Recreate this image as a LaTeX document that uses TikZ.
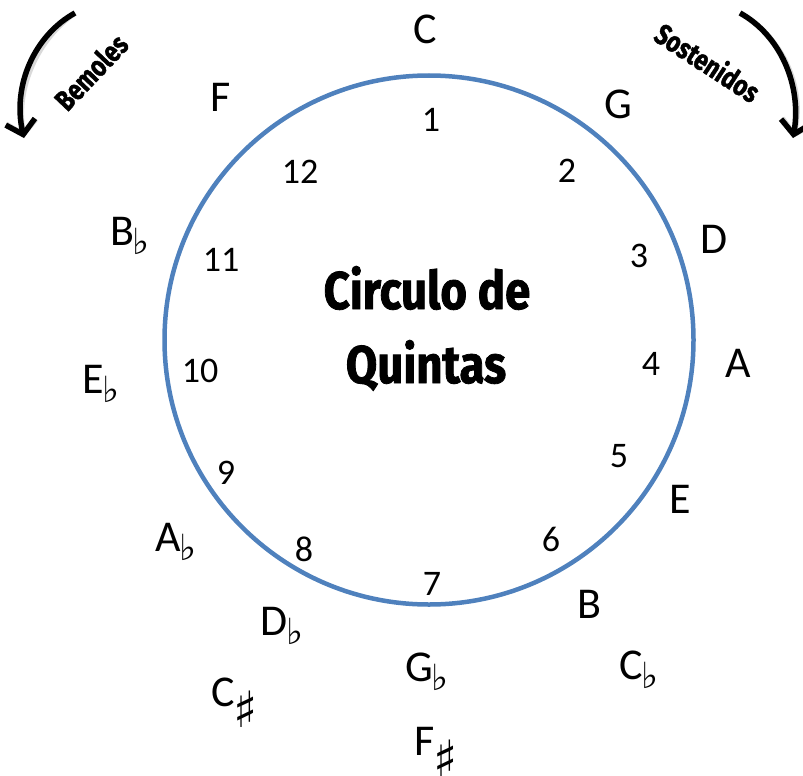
\documentclass[tikz,border=0pt]{standalone}
\usepackage{fontspec}
\setmainfont{Carlito}
\newfontfamily\symfont{DejaVu Sans}
\newfontfamily\titlefont[FakeStretch=0.86,FakeBold=1.5]{Fira Sans}
\newfontfamily\sidefont[FakeStretch=0.8,FakeBold=1.5]{Fira Sans}
\usetikzlibrary{arrows.meta}
\newcommand\flt{\kern-1pt\raisebox{-9pt}{\symfont\fontsize{36}{36}\selectfont ♭}}
\newcommand\shp{\kern-1pt\raisebox{-21pt}[\height][15pt]{\symfont\fontsize{50}{50}\selectfont ♯}}
\tikzset{
  note/.style={inner sep=0pt, outer sep=0pt, anchor=base west, font=\fontsize{44}{44}\selectfont},
  num/.style={inner sep=0pt, outer sep=0pt, anchor=base, font=\fontsize{36}{36}\selectfont},
  ring/.style={draw=ringblue, line width=4.5pt},
  bigarrow/.style={line width=5.5pt, -{Straight Barb[length=13pt,width=30pt,line width=5.5pt]}},
  sidelabel/.style={inner sep=0pt, font=\sidefont\bfseries\fontsize{29}{29}\selectfont},
  titletext/.style={inner sep=0pt, anchor=base, font=\titlefont\bfseries\fontsize{53}{53}\selectfont},
}
\definecolor{ringblue}{HTML}{4F81BD}
\begin{document}
\begin{tikzpicture}[x=1pt,y=-1pt]
\useasboundingbox (0,0) rectangle (803,776);
\node[ring, circle, minimum size=529pt, inner sep=0pt] (ring) at (429,340) {};
% title
\node[titletext] (title1) at (427,309) {Circulo de};
\node[titletext] (title2) at (426,383) {Quintas};
% notes
\node[note] (nC) at (413,44) {C};
\node[note] (nG) at (604,118) {G};
\node[note] (nD) at (700,253) {D};
\node[note] (nA) at (725,377) {A};
\node[note] (nE) at (669,513) {E};
\node[note] (nB) at (577,618) {B};
\node[note] (nCb) at (619,679) {C\flt};
\node[note] (nGb) at (405,681) {G\flt};
\node[note] (nFs) at (414,755) {F\shp};
\node[note] (nCs) at (211,706) {C\shp};
\node[note] (nDb) at (260,635) {D\flt};
\node[note] (nAb) at (155,551) {A\flt};
\node[note] (nEb) at (82,393) {E\flt};
\node[note] (nBb) at (110,245) {B\flt};
\node[note] (nF) at (210,111) {F};
% numbers
\node[num] (k1) at (431,131) {1};
\node[num] (k2) at (567,182) {2};
\node[num] (k3) at (639,267) {3};
\node[num] (k4) at (651,375) {4};
\node[num] (k5) at (619,467) {5};
\node[num] (k6) at (551,551) {6};
\node[num] (k7) at (432,595) {7};
\node[num] (k8) at (304,561) {8};
\node[num] (k9) at (226,484) {9};
\node[num] (k10) at (200,382) {10};
\node[num] (k11) at (221,271) {11};
\node[num] (k12) at (300,183) {12};
% arrows
\coordinate (la) at (75,13);
\coordinate (lb) at (24,138);
\coordinate (ra) at (740,13);
\coordinate (rb) at (793,138);
\draw[bigarrow, black!25, opacity=0.6, shift={(3,3)}] (la) .. controls (35,35) and (12,85) .. (lb);
\draw[bigarrow, black!25, opacity=0.6, shift={(3,3)}] (ra) .. controls (780,35) and (802,85) .. (rb);
\draw[bigarrow] (la) .. controls (35,35) and (12,85) .. (lb);
\draw[bigarrow] (ra) .. controls (780,35) and (802,85) .. (rb);
\node[sidelabel, rotate=46.5] (bem) at (91,72) {Bemoles};
\node[sidelabel, rotate=-33] (sos) at (708,62) {Sostenidos};
\end{tikzpicture}
\end{document}
